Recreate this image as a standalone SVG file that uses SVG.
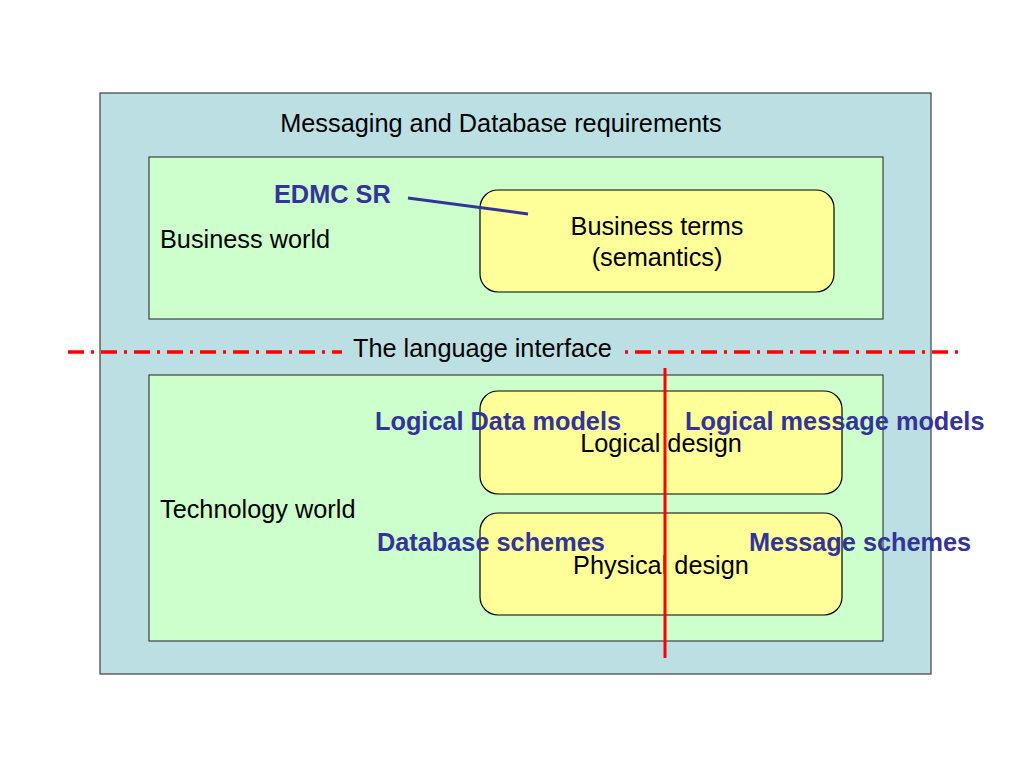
<svg xmlns="http://www.w3.org/2000/svg" width="1024" height="768" viewBox="0 0 1024 768">
<style>
.t{font-family:"Liberation Sans",Arial,sans-serif;font-size:25.3px;fill:#000}
.b{font-family:"Liberation Sans",Arial,sans-serif;font-size:25.3px;font-weight:bold;fill:#333399}
.g{fill:#CCFFCC;stroke:#404040;stroke-width:1.2}
.y{fill:#FFFF99;stroke:#000;stroke-width:1.2}
</style>
<rect width="1024" height="768" fill="#fff"/>
<g id="outer">
<rect x="100" y="93" width="831" height="581" fill="#BBDFE3" stroke="#404040" stroke-width="1.2"/>
<text class="t" x="501" y="132" text-anchor="middle">Messaging and Database requirements</text>
</g>
<g id="business-world">
<rect class="g" x="149" y="157" width="734" height="162"/>
<text class="t" x="160" y="248">Business world</text>
</g>
<g id="technology-world">
<rect class="g" x="149" y="375" width="734" height="266"/>
<text class="t" x="160" y="518">Technology world</text>
</g>
<g id="business-terms">
<rect class="y" x="480" y="190" width="354" height="102" rx="18"/>
<text class="t" x="657" y="235" text-anchor="middle">Business terms</text>
<text class="t" x="657" y="266" text-anchor="middle">(semantics)</text>
</g>
<g id="logical-design">
<rect class="y" x="480" y="391" width="362" height="103" rx="18"/>
<text class="t" x="661" y="452" text-anchor="middle">Logical design</text>
</g>
<g id="physical-design">
<rect class="y" x="480" y="513" width="362" height="102" rx="18"/>
<text class="t" x="661" y="574" text-anchor="middle">Physical design</text>
</g>
<g id="connectors">
<line x1="408" y1="198" x2="528" y2="214" stroke="#333399" stroke-width="3"/>
<line x1="68" y1="352" x2="342" y2="352" stroke="#FF0000" stroke-width="3.5" stroke-dasharray="16 7 3 7"/>
<line x1="625" y1="352" x2="965" y2="352" stroke="#FF0000" stroke-width="3.5" stroke-dasharray="3 7 16 7"/>
<line x1="665" y1="368" x2="665" y2="658" stroke="#FF0000" stroke-width="3"/>
</g>
<g id="labels">
<text class="b" x="274" y="203">EDMC SR</text>
<text class="t" x="353" y="357">The language interface</text>
<text class="b" x="375" y="430">Logical Data models</text>
<text class="b" x="685" y="430">Logical message models</text>
<text class="b" x="377" y="551">Database schemes</text>
<text class="b" x="749" y="551">Message schemes</text>
</g>
</svg>
